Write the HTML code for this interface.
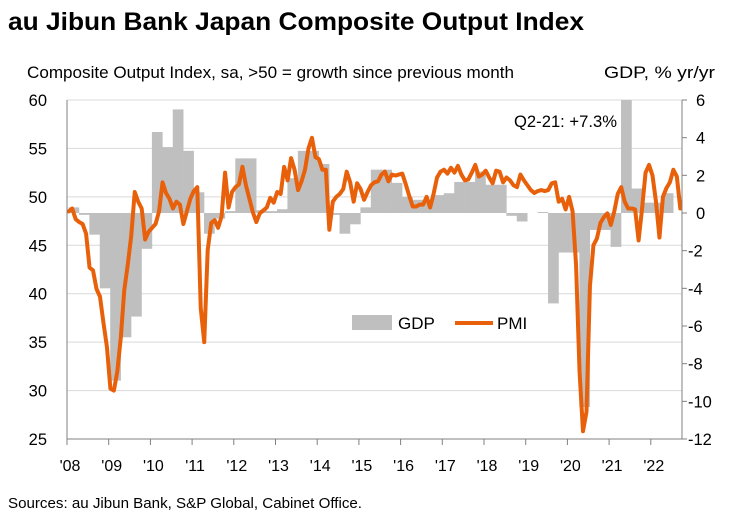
<!DOCTYPE html>
<html><head><meta charset="utf-8"><style>
body{margin:0;background:#fff;}
svg{display:block;font-family:"Liberation Sans",Arial,sans-serif;}
</style></head><body>
<svg id="chart" width="736" height="517" viewBox="0 0 736 517">
<text x="8" y="30" font-size="25" font-weight="bold" fill="#000" textLength="576" lengthAdjust="spacingAndGlyphs">au Jibun Bank Japan Composite Output Index</text>
<text x="27" y="78" font-size="16.5" fill="#000" textLength="487" lengthAdjust="spacingAndGlyphs">Composite Output Index, sa, &gt;50 = growth since previous month</text>
<text x="604" y="78" font-size="16.5" fill="#000" textLength="111" lengthAdjust="spacingAndGlyphs">GDP, % yr/yr</text>
<g id="grid"></g>
<defs><clipPath id="plotclip"><rect x="67" y="100" width="615" height="339"/></clipPath></defs>
<g id="bars" clip-path="url(#plotclip)"></g>
<g id="line"></g>
<g id="axes"></g>
<text x="514" y="127" font-size="16.5" fill="#000" textLength="103" lengthAdjust="spacingAndGlyphs">Q2-21: +7.3%</text>
<g>
<rect x="352" y="315" width="40" height="15" fill="#bfbfbf"/>
<text x="398" y="329" font-size="17" fill="#000">GDP</text>
<line x1="455" y1="323" x2="493" y2="323" stroke="#e8600a" stroke-width="4"/>
<text x="497" y="329" font-size="17" fill="#000">PMI</text>
</g>
<text x="8" y="508" font-size="15" fill="#000" textLength="354" lengthAdjust="spacingAndGlyphs">Sources: au Jibun Bank, S&amp;P Global, Cabinet Office.</text>
</svg>
<script>
const yearLabels = ["'08","'09","'10","'11","'12","'13","'14","'15","'16","'17","'18","'19","'20","'21","'22"];
const leftTicks = [25,30,35,40,45,50,55,60];
const rightTicks = [-12,-10,-8,-6,-4,-2,0,2,4,6];
const gdpValues = [0.3,-0.1,-1.15,-4.0,-8.9,-6.6,-5.5,-1.9,4.3,3.5,5.5,3.3,1.1,-1.1,-0.3,0.1,2.9,2.9,0.15,0.1,0.2,1.85,3.3,3.3,2.6,-0.1,-1.1,-0.6,0.3,2.3,2.3,1.6,0.85,0.7,0.7,0.95,1.05,1.65,1.65,2.2,1.5,1.5,-0.15,-0.45,0,0.05,-4.8,-2.1,-2.1,-10.3,-0.9,-0.9,-1.8,7.3,1.3,0.55,0.55,1.05];
const pmiValues = [48.5,48.8,47.7,47.4,47.2,46.2,42.7,42.4,40.5,39.7,37,34.5,30.2,30.0,32,35.5,40.4,43,46,50.5,49.5,48.8,45.6,46.4,46.8,47.2,48.5,51.5,50.4,49.8,48.8,49.5,49.2,47.2,48.5,49.8,
50.6,51,38.5,35,44.5,47.3,47.6,46.8,48,52.5,48.9,50.5,51,51.3,53.1,51.2,49.8,48.4,47.4,48.3,48.6,48.9,49.9,49.4,50.5,50.3,53.1,51.7,54,52.8,50.7,51.6,52.8,55,56.1,54.1,53.9,52.8,52.8,46.6,49.5,50,50.3,50.8,52.6,51.5,49.5,51.4,50.8,49.7,50.5,51.2,51.5,51.6,52.3,52.6,51.6,52.3,52.2,52.3,52.4,51.3,50.1,49,49,49.2,49.2,50,48.9,50.3,52,52.6,
52.8,52.4,53,52.5,53.2,52.3,51.7,51.8,52.5,53.3,52.1,52.3,52.7,52,51.4,52.7,52.6,51.5,52,51.7,51.2,51,52.3,51.7,51.2,50.7,50.4,50.6,50.7,50.6,50.7,51.4,51.5,49.5,49.8,48.7,50,48.5,43,32,25.8,27.8,40.8,45,45.7,47.3,47.9,48.3,47.1,48.5,50.3,51,49.5,48.8,48.8,48.7,45.5,48.8,52.5,53.3,52.2,49.5,45.8,50,50.9,51.5,52.8,52.1,48.8];

const NS="http://www.w3.org/2000/svg";
const X0=67, X1=682, Y0=100, Y1=439, YEAR=41.7;
const yL = v => Y1 - (v-25)/35*(Y1-Y0);
const yR = v => Y0 + (6-v)/18*(Y1-Y0);
const xMonth = m => 68.7 + m*YEAR/12;
const xQuarter = q => 68.5 + q*YEAR/4;
const xYear = i => X0 + i*YEAR;
function mk(tag, attrs, parent){const e=document.createElementNS(NS,tag);for(const k in attrs)e.setAttribute(k,attrs[k]);parent.appendChild(e);return e;}
const grid=document.getElementById('grid'), axes=document.getElementById('axes'), bars=document.getElementById('bars'), line=document.getElementById('line');

leftTicks.forEach(v=>{
  if(v!==25){const g=mk('line',{x1:X0,x2:X1,y1:yL(v),y2:yL(v),stroke:'#d9d9d9','stroke-width':1},grid);
  
  }
  const t=mk('text',{x:47,y:yL(v)+6,'font-size':16.5,'text-anchor':'end',fill:'#000'},axes);
  t.textContent=v;
  
  
});
rightTicks.forEach(v=>{
  const tk=mk('line',{x1:X1,x2:X1+5,y1:yR(v),y2:yR(v),stroke:'#808080','stroke-width':1},axes);
  
  
  const t=mk('text',{x:v<0?688:696,y:yR(v)+6,'font-size':16.5,fill:'#000'},axes);
  t.textContent=v;
  
  
});
yearLabels.forEach((lab,i)=>{
  const tk=mk('line',{x1:xYear(i),x2:xYear(i),y1:Y1,y2:Y1+6,stroke:'#808080','stroke-width':1},axes);
  
  
  const t=mk('text',{x:xYear(i)+3,y:471,'font-size':16,'text-anchor':'middle',fill:'#000'},axes);
  t.textContent=lab;
  
  
});
const la=mk('line',{x1:X0,x2:X0,y1:Y0,y2:Y1,stroke:'#808080','stroke-width':1},axes);


const ra=mk('line',{x1:X1,x2:X1,y1:Y0,y2:Y1,stroke:'#808080','stroke-width':1},axes);


const ba=mk('line',{x1:X0,x2:X1,y1:Y1,y2:Y1,stroke:'#808080','stroke-width':1},axes);



gdpValues.forEach((v,q)=>{
  const y0=yR(0), y1=yR(v);
  const r=mk('rect',{x:xQuarter(q),width:YEAR/4+0.3,y:Math.min(y0,y1),height:Math.abs(y1-y0),fill:'#bfbfbf'},bars);
  
  
});
const d=pmiValues.map((v,m)=>(m?'L':'M')+xMonth(m).toFixed(2)+','+yL(v).toFixed(2)).join(' ');
const p=mk('path',{d:d,fill:'none',stroke:'#e8600a','stroke-width':4,'stroke-linejoin':'round','stroke-linecap':'round'},line);


</script>
</body></html>
